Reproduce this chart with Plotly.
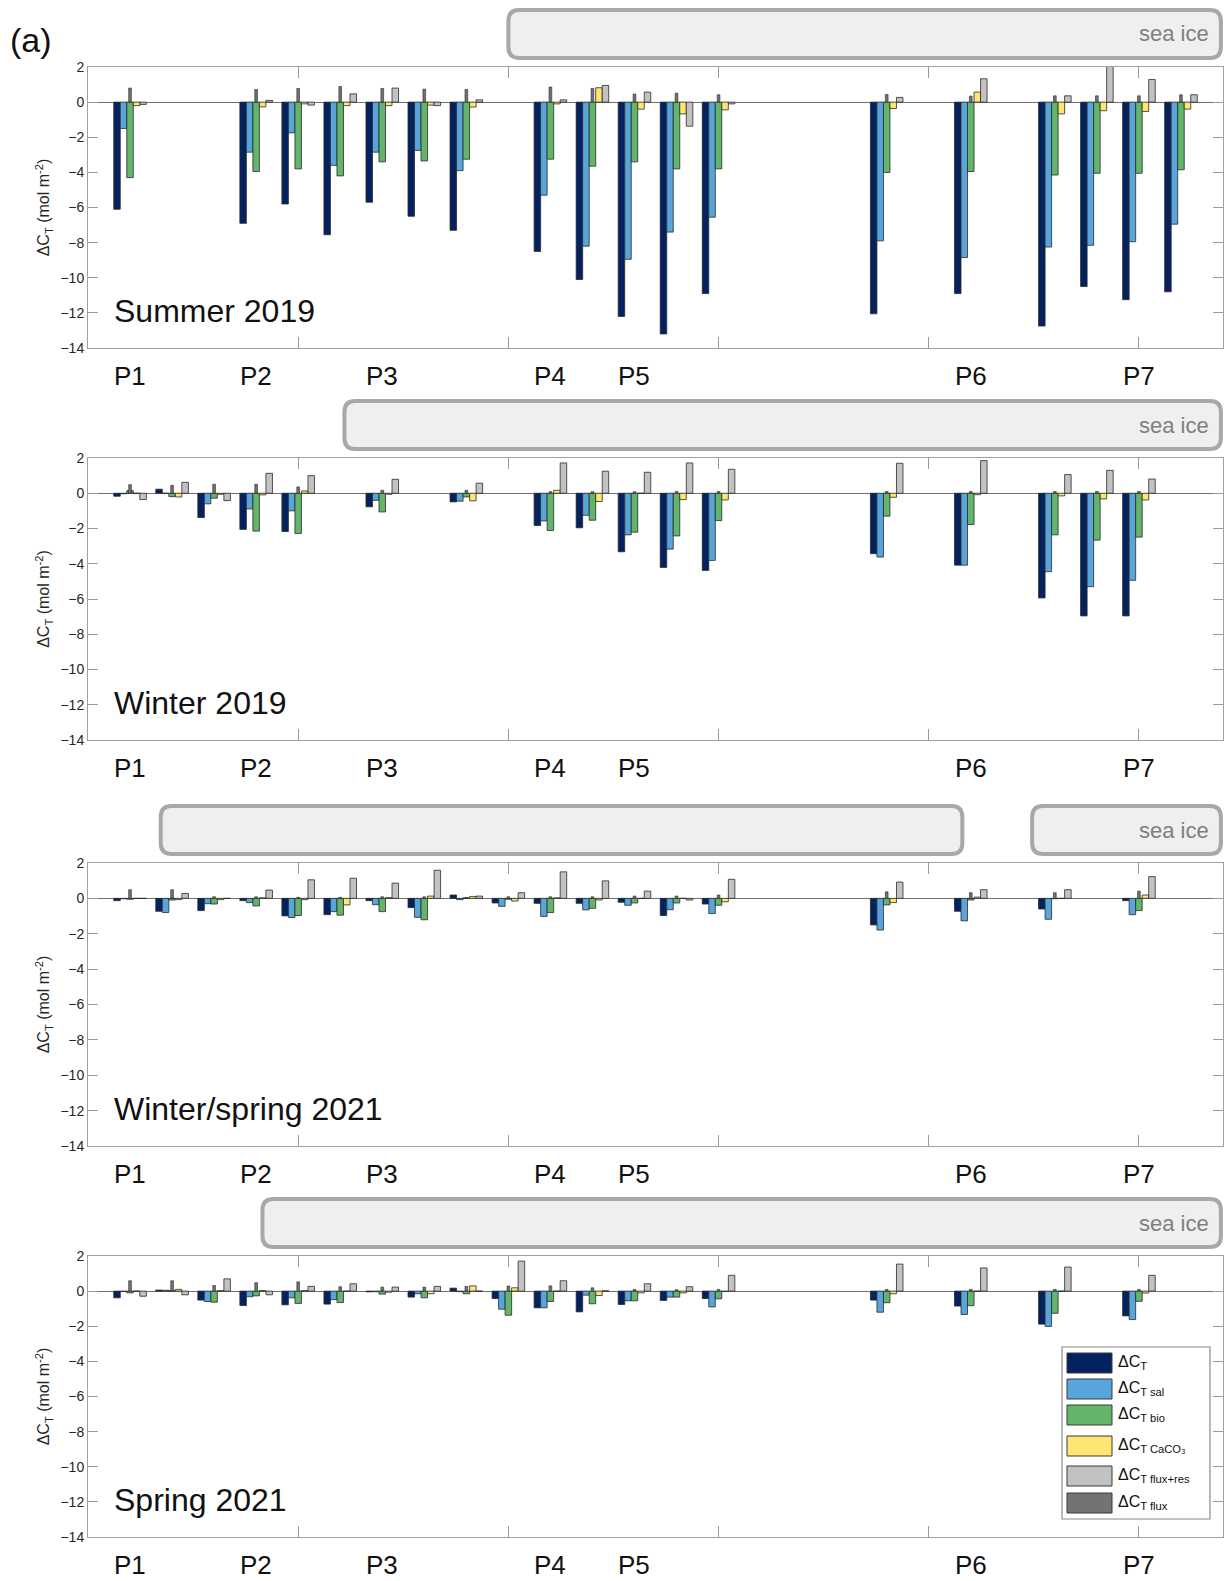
import plotly.graph_objects as go

# ---------------- data ----------------
series_names = ["ΔC<sub>T</sub>", "ΔC<sub>T sal</sub>", "ΔC<sub>T bio</sub>",
                "ΔC<sub>T CaCO₃</sub>", "ΔC<sub>T flux+res</sub>", "ΔC<sub>T flux</sub>"]
series_colors = ["#03225f", "#58a5db", "#62b56a", "#ffe571", "#c2c2c2", "#737373"]

panel_titles = ["Summer 2019", "Winter 2019", "Winter/spring 2021", "Spring 2021"]
p_labels = ["P1", "P2", "P3", "P4", "P5", "P6", "P7"]
p_label_pos = [1, 4, 7, 11, 13, 21, 25]

# Summer 2019
s19_st = [1, 4, 5, 6, 7, 8, 9, 11, 12, 13, 14, 15, 19, 21, 23, 24, 25, 26]
s19_dct = [-6.1, -6.9, -5.8, -7.55, -5.7, -6.5, -7.3, -8.5, -10.1, -12.2, -13.2, -10.9, -12.05, -10.9, -12.75, -10.5, -11.25, -10.8]
s19_sal = [-1.5, -2.85, -1.75, -3.6, -2.85, -2.75, -3.9, -5.3, -8.2, -8.95, -7.4, -6.55, -7.9, -8.85, -8.25, -8.15, -7.95, -6.95]
s19_bio = [-4.3, -3.95, -3.8, -4.2, -3.4, -3.35, -3.25, -3.25, -3.65, -3.4, -3.8, -3.8, -4.0, -3.95, -4.15, -4.05, -4.05, -3.85]
s19_caco3 = [-0.2, -0.27, -0.1, -0.2, -0.2, -0.17, -0.28, -0.1, 0.82, -0.4, -0.67, -0.44, -0.36, 0.57, -0.67, -0.49, -0.53, -0.4]
s19_fluxres = [-0.13, 0.1, -0.17, 0.47, 0.8, -0.2, 0.13, 0.13, 0.95, 0.57, -1.37, -0.1, 0.27, 1.33, 0.36, 2.3, 1.29, 0.42]
s19_flux = [0.8, 0.72, 0.78, 0.89, 0.78, 0.74, 0.72, 0.86, 0.78, 0.46, 0.51, 0.42, 0.44, 0.34, 0.36, 0.36, 0.36, 0.42]

# Winter 2019
w19_st = [1, 2, 3, 4, 5, 7, 9, 11, 12, 13, 14, 15, 19, 21, 23, 24, 25]
w19_dct = [-0.17, 0.23, -1.38, -2.05, -2.17, -0.77, -0.49, -1.83, -1.96, -3.32, -4.21, -4.38, -3.43, -4.08, -5.94, -6.96, -6.96]
w19_sal = [-0.03, 0.0, -0.6, -0.89, -1.0, -0.4, -0.45, -1.57, -1.25, -2.36, -3.17, -3.81, -3.62, -4.08, -4.45, -5.3, -4.94]
w19_bio = [0.15, -0.19, -0.28, -2.15, -2.28, -1.06, -0.21, -2.11, -1.53, -2.21, -2.42, -1.55, -1.3, -1.77, -2.36, -2.66, -2.49]
w19_caco3 = [0.0, -0.21, -0.06, -0.09, 0.13, -0.06, -0.43, 0.17, -0.47, 0.0, -0.36, -0.38, -0.23, -0.08, -0.15, -0.32, -0.38]
w19_fluxres = [-0.36, 0.62, -0.42, 1.13, 1.0, 0.79, 0.57, 1.72, 1.25, 1.19, 1.72, 1.36, 1.7, 1.85, 1.06, 1.3, 0.81]
w19_flux = [0.49, 0.45, 0.51, 0.51, 0.36, 0.17, 0.17, 0.09, 0.09, 0.09, 0.1, 0.1, 0.1, 0.1, 0.1, 0.1, 0.1]

# Winter/spring 2021
ws21_st = [1, 2, 3, 4, 5, 6, 7, 8, 9, 10, 11, 12, 13, 14, 15, 19, 21, 23, 25]
ws21_dct = [-0.13, -0.73, -0.69, -0.13, -0.99, -0.92, -0.13, -0.52, 0.19, -0.26, -0.28, -0.28, -0.22, -0.97, -0.32, -1.5, -0.73, -0.6, -0.13]
ws21_sal = [-0.02, -0.8, -0.3, -0.24, -1.08, -0.75, -0.36, -1.07, -0.07, -0.45, -1.02, -0.65, -0.39, -0.64, -0.86, -1.79, -1.27, -1.18, -0.92]
ws21_bio = [-0.05, -0.09, -0.32, -0.43, -0.97, -0.95, -0.75, -1.21, 0.03, -0.05, -0.8, -0.56, -0.26, -0.26, -0.39, -0.37, -0.09, -0.02, -0.69]
ws21_caco3 = [0.0, -0.07, -0.07, 0.03, -0.07, -0.37, 0.04, 0.13, 0.11, -0.15, 0.03, -0.09, 0.0, 0.0, -0.19, -0.24, 0.07, 0.0, 0.19]
ws21_fluxres = [0.0, 0.28, 0.0, 0.47, 1.05, 1.14, 0.86, 1.59, 0.13, 0.32, 1.5, 0.99, 0.41, -0.09, 1.08, 0.92, 0.49, 0.49, 1.23]
ws21_flux = [0.49, 0.49, 0.09, 0.09, 0.06, 0.06, 0.09, 0.09, 0.05, 0.09, 0.09, 0.09, 0.13, 0.13, 0.19, 0.37, 0.32, 0.32, 0.41]

# Spring 2021
sp21_st = [1, 2, 3, 4, 5, 6, 7, 8, 9, 10, 11, 12, 13, 14, 15, 19, 21, 23, 25]
sp21_dct = [-0.38, 0.06, -0.51, -0.82, -0.78, -0.74, -0.04, -0.34, 0.17, -0.42, -0.95, -1.18, -0.76, -0.53, -0.42, -0.51, -0.85, -1.88, -1.41]
sp21_sal = [-0.02, 0.05, -0.59, -0.32, -0.38, -0.48, -0.03, -0.15, -0.03, -1.03, -0.95, -0.23, -0.55, -0.34, -0.9, -1.2, -1.33, -2.01, -1.62]
sp21_bio = [-0.1, 0.03, -0.63, -0.27, -0.7, -0.65, -0.17, -0.38, -0.15, -1.37, -0.59, -0.72, -0.55, -0.34, -0.44, -0.66, -0.83, -1.26, -0.58]
sp21_caco3 = [0.0, 0.1, 0.03, 0.03, 0.03, 0.0, -0.06, -0.15, 0.3, 0.19, 0.0, -0.25, -0.1, -0.1, -0.02, -0.15, 0.0, 0.0, -0.11]
sp21_fluxres = [-0.29, -0.21, 0.7, -0.21, 0.27, 0.42, 0.23, 0.27, 0.0, 1.71, 0.59, 0.02, 0.42, 0.25, 0.9, 1.54, 1.32, 1.37, 0.9]
sp21_flux = [0.59, 0.59, 0.32, 0.48, 0.53, 0.25, 0.23, 0.23, 0.27, 0.29, 0.3, 0.19, 0.1, 0.08, 0.1, 0.1, 0.1, 0.1, 0.1]

# sea-ice extent (station units) for each panel; label drawn in the last box
sea_ice = [[(10.0, 26.95)], [(6.1, 26.95)], [(1.73, 20.8), (22.46, 26.95)], [(4.15, 26.95)]]

panels = [
    (s19_st, [s19_dct, s19_sal, s19_bio, s19_caco3, s19_fluxres, s19_flux]),
    (w19_st, [w19_dct, w19_sal, w19_bio, w19_caco3, w19_fluxres, w19_flux]),
    (ws21_st, [ws21_dct, ws21_sal, ws21_bio, ws21_caco3, ws21_fluxres, ws21_flux]),
    (sp21_st, [sp21_dct, sp21_sal, sp21_bio, sp21_caco3, sp21_fluxres, sp21_flux]),
]

# ---------------- layout geometry ----------------
W, H = 1225, 1581
ML, MR = 88, 2
PW = W - ML - MR
XMAX = 27
panel_px = [(67, 348), (458, 740), (863, 1146), (1256, 1537)]  # top, bottom pixel rows
FONT = "Liberation Sans, Arial, sans-serif"

def py(p):
    return 1 - p / H

def pxp(p):
    return (p - ML) / PW

fig = go.Figure()
layout = dict(template="none", width=W, height=H, autosize=False,
              margin=dict(l=ML, r=MR, t=0, b=0, pad=0, autoexpand=False),
              paper_bgcolor="white", plot_bgcolor="white", barmode="overlay",
              showlegend=False, font=dict(family=FONT, color="#262626"))

bw = 0.155
annotations = []
shapes = []

for i, (st, vals) in enumerate(panels):
    n = "" if i == 0 else str(i + 1)
    xa, ya = "x" + n, "y" + n
    for s in range(5):
        fig.add_trace(go.Bar(x=st, y=vals[s], xaxis=xa, yaxis=ya, width=bw,
                             offset=-2.5 * bw + s * bw,
                             marker=dict(color=series_colors[s], line=dict(color="#2a2a2a", width=0.8)),
                             name=series_names[s]))
    fig.add_trace(go.Bar(x=st, y=vals[5], xaxis=xa, yaxis=ya, width=0.065, offset=-0.0325,
                         marker=dict(color=series_colors[5], line=dict(color="#2a2a2a", width=0.6)),
                         name=series_names[5]))
    top, bot = panel_px[i]
    layout["xaxis" + n] = dict(domain=[0, 1], range=[0, XMAX], anchor=ya, tick0=0, dtick=5,
                               ticks="inside", ticklen=11, tickcolor="#9a9a9a", tickwidth=1,
                               showticklabels=False, showline=True, linecolor="#a0a0a0",
                               linewidth=1, mirror="ticks", showgrid=False, zeroline=False,
                               automargin=False)
    layout["yaxis" + n] = dict(domain=[py(bot), py(top)], range=[-14, 2], anchor=xa,
                               tick0=-14, dtick=2, ticks="inside", ticklen=10,
                               tickcolor="#9a9a9a", showline=True, linecolor="#a0a0a0",
                               linewidth=1, mirror="ticks", showgrid=False,
                               zeroline=True, zerolinecolor="#6f6f6f", zerolinewidth=1,
                               automargin=False,
                               tickfont=dict(size=14, color="#262626"),
                               title=dict(text="ΔC<sub>T</sub> (mol m<sup>-2</sup>)",
                                          font=dict(size=16, color="#262626"), standoff=6))
    # panel name
    annotations.append(dict(text=panel_titles[i], xref=xa + " domain", yref=ya + " domain",
                            x=0.021, y=0.13, xanchor="left", yanchor="middle",
                            showarrow=False, font=dict(size=32, color="#111111")))
    # P labels
    for lab, pos in zip(p_labels, p_label_pos):
        annotations.append(dict(text=lab, xref=xa, yref=ya + " domain", x=pos, y=-0.1,
                                xanchor="center", yanchor="middle", showarrow=False,
                                font=dict(size=26, color="#111111")))
    # sea-ice boxes
    b_top, b_bot = top - 57, top - 9
    rx, ry = 11 / PW, 11 / H
    for k, (a, b) in enumerate(sea_ice[i]):
        x0, x1 = a / XMAX, b / XMAX
        y0, y1 = py(b_bot), py(b_top)
        path = (f"M{x0+rx},{y0} L{x1-rx},{y0} Q{x1},{y0} {x1},{y0+ry} "
                f"L{x1},{y1-ry} Q{x1},{y1} {x1-rx},{y1} L{x0+rx},{y1} "
                f"Q{x0},{y1} {x0},{y1-ry} L{x0},{y0+ry} Q{x0},{y0} {x0+rx},{y0} Z")
        shapes.append(dict(type="path", path=path, xref="paper", yref="paper",
                           fillcolor="#efefef", line=dict(color="#a8a8a8", width=4), layer="above"))
        if k == len(sea_ice[i]) - 1:
            annotations.append(dict(text="sea ice", xref="paper", yref="paper",
                                    x=pxp(1211), y=py((b_top + b_bot) / 2), xanchor="right",
                                    yanchor="middle", showarrow=False,
                                    font=dict(size=22, color="#7f7f7f")))

# (a) label
annotations.append(dict(text="(a)", xref="paper", yref="paper", x=pxp(8), y=py(40),
                        xanchor="left", yanchor="middle", showarrow=False,
                        font=dict(size=34, color="#111111")))

# custom legend (in bottom panel)
lg_x0, lg_x1, lg_y0, lg_y1 = 1062, 1210, 1347, 1519
shapes.append(dict(type="rect", xref="paper", yref="paper", x0=pxp(lg_x0), x1=pxp(lg_x1),
                   y0=py(lg_y1), y1=py(lg_y0), fillcolor="white",
                   line=dict(color="#8a8a8a", width=1.2), layer="above"))
sw_tops = [1353, 1379, 1405, 1436, 1466, 1493]
for k in range(6):
    t = sw_tops[k]
    shapes.append(dict(type="rect", xref="paper", yref="paper", x0=pxp(1067), x1=pxp(1112),
                       y0=py(t + 20), y1=py(t), fillcolor=series_colors[k],
                       line=dict(color="#3a3a3a", width=1), layer="above"))
    annotations.append(dict(text=series_names[k], xref="paper", yref="paper", x=pxp(1116),
                            y=py(t + 9), xanchor="left", yanchor="middle", showarrow=False,
                            font=dict(size=16, color="#111111")))

layout["annotations"] = annotations
layout["shapes"] = shapes
fig.update_layout(**layout)
fig.write_html("out.html")
